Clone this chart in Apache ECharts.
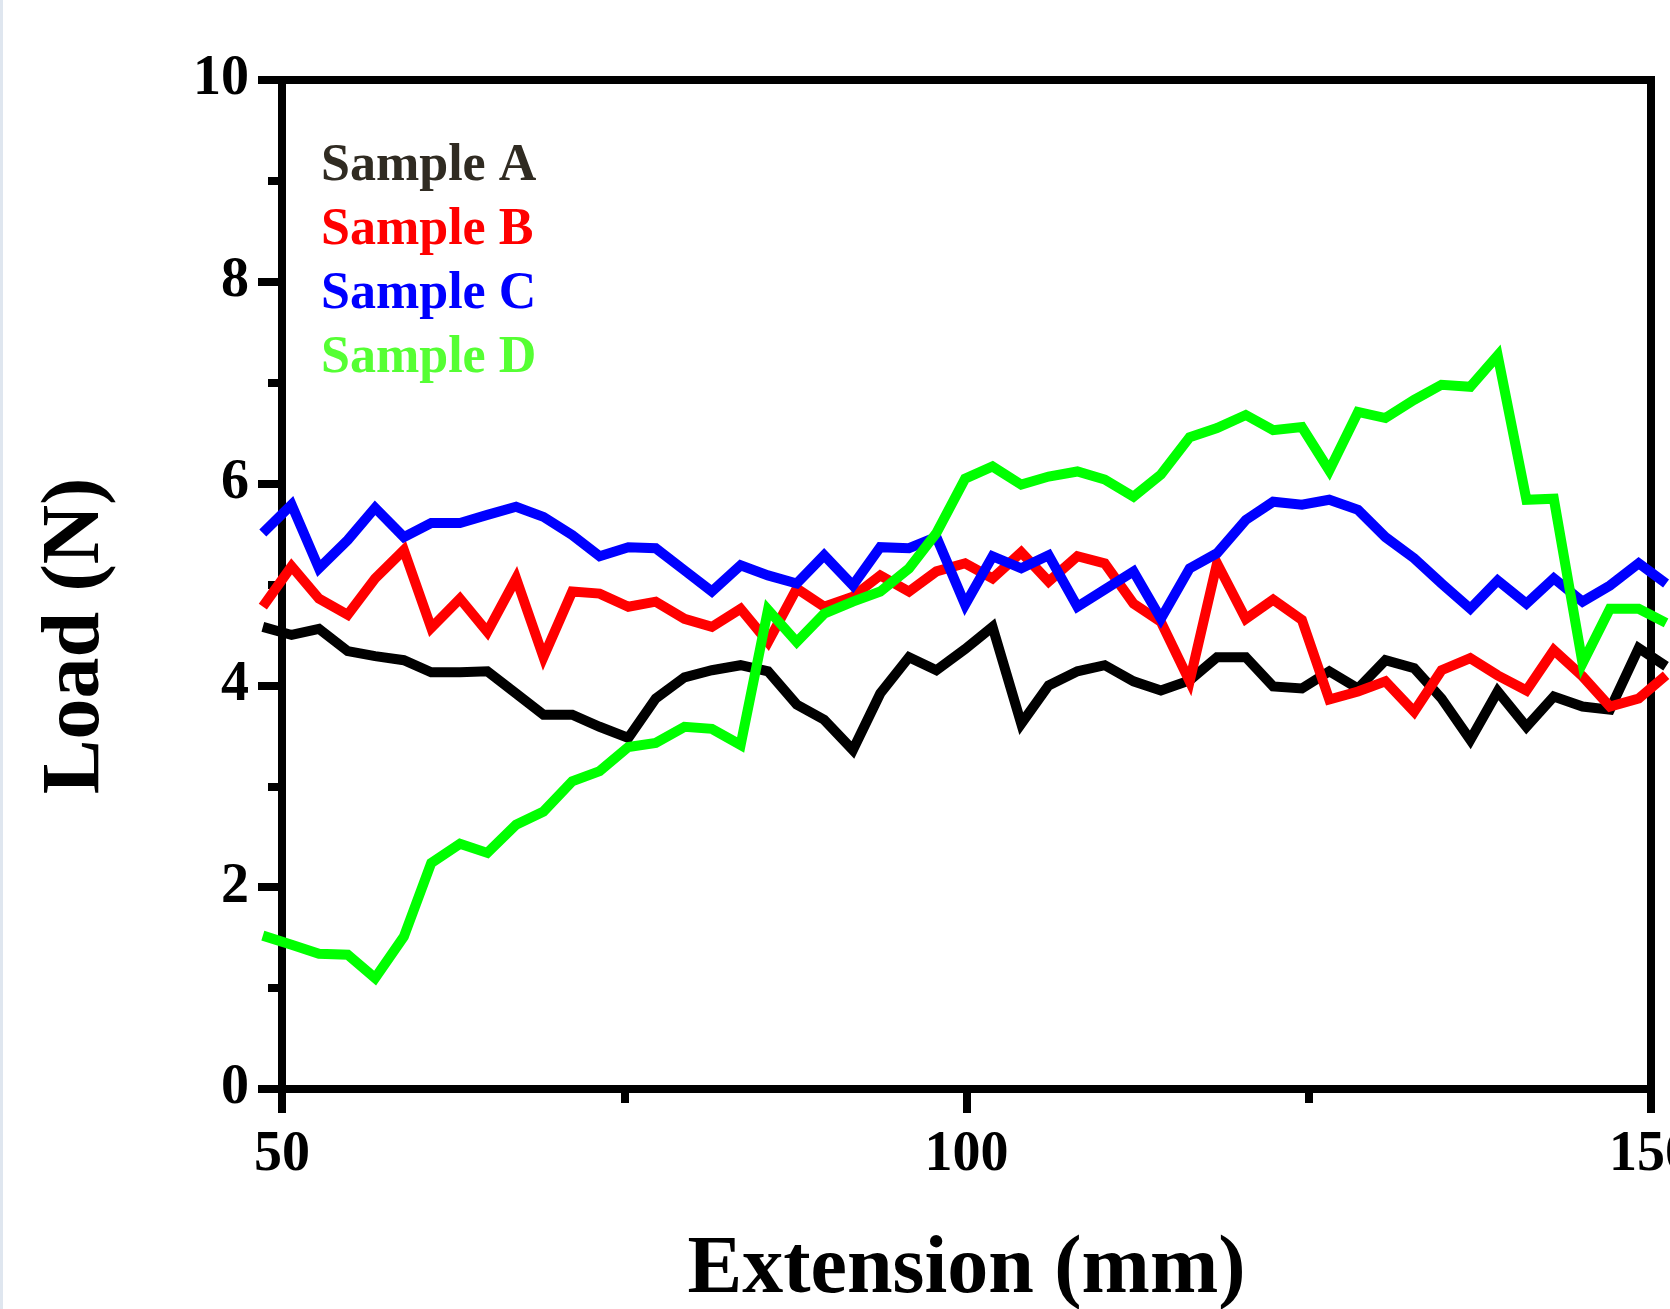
<!DOCTYPE html>
<html>
<head>
<meta charset="utf-8">
<script src="https://cdn.jsdelivr.net/npm/echarts@6/dist/echarts.min.js"></script>
<style>
html,body{margin:0;padding:0;background:#ffffff;}
#chart{width:1670px;height:1309px;}
</style>
</head>
<body>
<div id="chart"></div>
<script>
// ---- data ----
const extension = [48.6, 50.7, 52.7, 54.8, 56.8, 58.9, 60.9, 63.0, 65.0, 67.1,
  69.1, 71.2, 73.2, 75.3, 77.3, 79.4, 81.4, 83.5, 85.5, 87.6,
  89.6, 91.7, 93.7, 95.8, 97.8, 99.9, 101.9, 104.0, 106.0, 108.1,
  110.1, 112.2, 114.2, 116.3, 118.3, 120.4, 122.4, 124.5, 126.5, 128.6,
  130.6, 132.7, 134.7, 136.8, 138.8, 140.9, 142.9, 145.0, 147.0, 149.1, 151.1];

const sampleA = [4.58, 4.50, 4.56, 4.34, 4.29, 4.25, 4.13, 4.13, 4.14, 3.92,
  3.71, 3.71, 3.59, 3.48, 3.87, 4.08, 4.15, 4.20, 4.14, 3.81,
  3.66, 3.36, 3.92, 4.28, 4.15, 4.36, 4.58, 3.62, 4.00, 4.14,
  4.20, 4.04, 3.95, 4.05, 4.28, 4.28, 3.99, 3.97, 4.14, 3.97,
  4.25, 4.17, 3.87, 3.46, 3.94, 3.59, 3.89, 3.79, 3.76, 4.37, 4.19];

const sampleB = [4.78, 5.18, 4.86, 4.70, 5.06, 5.34, 4.57, 4.86, 4.53, 5.06,
  4.28, 4.93, 4.91, 4.78, 4.83, 4.66, 4.58, 4.76, 4.43, 4.96,
  4.78, 4.88, 5.09, 4.93, 5.13, 5.21, 5.06, 5.32, 5.03, 5.28,
  5.21, 4.81, 4.63, 4.04, 5.21, 4.66, 4.85, 4.65, 3.86, 3.94,
  4.04, 3.74, 4.15, 4.27, 4.10, 3.95, 4.35, 4.09, 3.79, 3.87, 4.10];

const sampleC = [5.51, 5.79, 5.16, 5.44, 5.76, 5.47, 5.61, 5.61, 5.69, 5.77,
  5.67, 5.49, 5.28, 5.37, 5.36, 5.14, 4.93, 5.19, 5.09, 5.01,
  5.29, 4.99, 5.37, 5.36, 5.47, 4.80, 5.28, 5.16, 5.29, 4.78,
  4.95, 5.13, 4.66, 5.16, 5.31, 5.64, 5.82, 5.79, 5.84, 5.74,
  5.47, 5.26, 5.01, 4.76, 5.04, 4.81, 5.06, 4.83, 4.99, 5.21, 5.01];

const sampleD = [1.52, 1.43, 1.34, 1.33, 1.10, 1.51, 2.24, 2.43, 2.34, 2.62,
  2.75, 3.05, 3.15, 3.39, 3.43, 3.59, 3.57, 3.41, 4.75, 4.43,
  4.71, 4.83, 4.93, 5.16, 5.51, 6.05, 6.17, 5.99, 6.07, 6.12,
  6.04, 5.87, 6.09, 6.46, 6.55, 6.68, 6.53, 6.56, 6.13, 6.71,
  6.65, 6.83, 6.98, 6.96, 7.27, 5.84, 5.85, 4.22, 4.76, 4.76, 4.62];

const seriesNames = ['Sample A', 'Sample B', 'Sample C', 'Sample D'];
const seriesValues = [sampleA, sampleB, sampleC, sampleD];
const lineColors = ['#000000', '#ff0000', '#0000ff', '#00ff00'];
const legendColors = ['#302b22', '#ff0000', '#0000ff', '#55ff33'];

const xTitle = 'Extension (mm)';
const yTitle = 'Load (N)';

// ---- chart ----
const FONT = "'Liberation Serif', 'Times New Roman', serif";
const chart = echarts.init(document.getElementById('chart'), null, {renderer: 'canvas'});

// visible frame: x 50..150 mapped onto [282, 1651]
const PLOT_L = 282, PLOT_R = 1651, W = 1670;
const pxPerUnit = (PLOT_R - PLOT_L) / (150 - 50);
// data layer: same scale, wider extent so the traces run past the frame like the reference
const DATA_MIN = 45, DATA_MAX = 155;
const dataLeft = PLOT_L - (50 - DATA_MIN) * pxPerUnit;
const dataRight = W - (PLOT_R + (DATA_MAX - 150) * pxPerUnit);

const axisLineStyle = {color: '#000', width: 8, cap: 'square'};

const option = {
  backgroundColor: '#ffffff',
  animation: false,
  grid: [
    {left: PLOT_L, right: W - PLOT_R, top: 80, bottom: 220, containLabel: false, outerBoundsMode: 'none'},
    {left: dataLeft, right: dataRight, top: 80, bottom: 220, containLabel: false, outerBoundsMode: 'none'}
  ],
  graphic: [{type: 'rect', left: 0, top: 0, shape: {width: 3, height: 1309}, style: {fill: '#dfe6ef'}, silent: true}],
  legend: {
    orient: 'vertical', left: 316, top: 135, padding: 0,
    icon: 'none', itemWidth: 0, itemHeight: 0, itemGap: 0,
    selectedMode: false,
    textStyle: {fontFamily: FONT, fontWeight: 'bold', fontSize: 52, lineHeight: 64},
    data: seriesNames.map((n, i) => ({name: n, textStyle: {color: legendColors[i]}}))
  },
  xAxis: [{
    gridIndex: 0, type: 'value', min: 50, max: 150, interval: 50, position: 'bottom',
    axisLine: {show: true, onZero: false, lineStyle: axisLineStyle},
    axisTick: {show: true, inside: false, length: 24, lineStyle: {color: '#000', width: 8}},
    minorTick: {show: true, splitNumber: 2, length: 14, lineStyle: {color: '#000', width: 8}},
    splitLine: {show: false}, minorSplitLine: {show: false},
    axisLabel: {margin: 39, fontFamily: FONT, fontWeight: 'bold', fontSize: 56, color: '#000', showMinLabel: true, showMaxLabel: true},
    name: xTitle, nameLocation: 'middle', nameGap: 141,
    nameTextStyle: {fontFamily: FONT, fontWeight: 'bold', fontSize: 82, color: '#000'}
  }, {
    gridIndex: 0, type: 'value', min: 50, max: 150, interval: 50, position: 'top',
    axisLine: {show: true, onZero: false, lineStyle: axisLineStyle},
    axisTick: {show: false}, axisLabel: {show: false}, splitLine: {show: false}
  }, {
    gridIndex: 1, type: 'value', min: DATA_MIN, max: DATA_MAX, show: false,
    axisLine: {show: false}, axisTick: {show: false}, axisLabel: {show: false}, splitLine: {show: false}
  }],
  yAxis: [{
    gridIndex: 0, type: 'value', min: 0, max: 10, interval: 2, position: 'left',
    axisLine: {show: true, onZero: false, lineStyle: axisLineStyle},
    axisTick: {show: true, inside: false, length: 24, lineStyle: {color: '#000', width: 8}},
    minorTick: {show: true, splitNumber: 2, length: 14, lineStyle: {color: '#000', width: 8}},
    splitLine: {show: false}, minorSplitLine: {show: false},
    axisLabel: {margin: 33, fontFamily: FONT, fontWeight: 'bold', fontSize: 56, color: '#000', showMinLabel: true, showMaxLabel: true},
    name: yTitle, nameLocation: 'middle', nameGap: 164,
    nameTextStyle: {fontFamily: FONT, fontWeight: 'bold', fontSize: 82, color: '#000', padding: [0, 103, 0, 0]}
  }, {
    gridIndex: 0, type: 'value', min: 0, max: 10, interval: 2, position: 'right',
    axisLine: {show: true, onZero: false, lineStyle: axisLineStyle},
    axisTick: {show: false}, axisLabel: {show: false}, splitLine: {show: false}
  }, {
    gridIndex: 1, type: 'value', min: 0, max: 10, show: false,
    axisLine: {show: false}, axisTick: {show: false}, axisLabel: {show: false}, splitLine: {show: false}
  }],
  series: seriesValues.map((vals, i) => ({
    name: seriesNames[i],
    type: 'line',
    xAxisIndex: 2, yAxisIndex: 2,
    data: extension.map((x, j) => [x, vals[j]]),
    showSymbol: false, symbol: 'none',
    clip: false, silent: true,
    color: lineColors[i],
    lineStyle: {color: lineColors[i], width: 10, join: 'miter', cap: 'butt'},
    emphasis: {disabled: true}
  }))
};
chart.setOption(option);
</script>
</body>
</html>
